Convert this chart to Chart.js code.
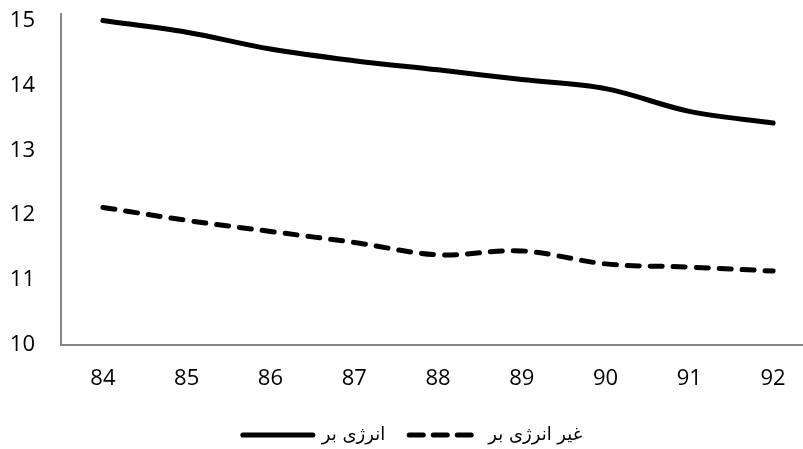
<!DOCTYPE html>
<html lang="fa">
<head>
    <meta charset="UTF-8">
    <title>انرژی بر / غیر انرژی بر</title>
    <style>
        html, body {
            margin: 0;
            padding: 0;
            background: #fff;
            overflow: hidden;
        }
        .container {
            width: 815px;
            height: 449px;
            position: relative;
        }
    </style>
    <script src="https://cdn.jsdelivr.net/npm/chart.js"></script>
</head>
<body>
    <div class="container">
        <canvas id="grafico"></canvas>
    </div>

    <script>
        // Datos
        const anios = ['84', '85', '86', '87', '88', '89', '90', '91', '92'];
        const energiaBar = [15.0, 14.82, 14.56, 14.38, 14.24, 14.09, 13.95, 13.60, 13.42];
        const noEnergiaBar = [12.12, 11.92, 11.75, 11.58, 11.39, 11.45, 11.25, 11.20, 11.14];
        const etiquetas = ['انرژی بر', 'غیر انرژی بر'];
        const marcasY = [10, 11, 12, 13, 14, 15];

        const colorEje = '#868686';
        const fuenteEjes = { family: 'Open Sans', size: 22, lineHeight: 1 };

        const ctx = document.getElementById('grafico').getContext('2d');

        new Chart(ctx, {
            type: 'line',
            data: {
                labels: anios,
                datasets: [{
                    label: etiquetas[0],
                    data: energiaBar,
                    borderColor: '#000',
                    backgroundColor: '#000',
                    borderWidth: 5,
                    borderCapStyle: 'round',
                    pointRadius: 0,
                    tension: 0.35
                }, {
                    label: etiquetas[1],
                    data: noEnergiaBar,
                    borderColor: '#000',
                    backgroundColor: '#000',
                    borderWidth: 5,
                    borderDash: [12, 11],
                    borderCapStyle: 'round',
                    pointRadius: 0,
                    tension: 0.35
                }]
            },
            options: {
                responsive: true,
                maintainAspectRatio: false,
                animation: false,
                layout: {
                    padding: { top: 14, left: 10, right: 0, bottom: -5 }
                },
                plugins: {
                    tooltip: { enabled: false },
                    legend: {
                        position: 'bottom',
                        labels: {
                            usePointStyle: true,
                            pointStyle: 'line',
                            pointStyleWidth: 70,
                            boxHeight: 5,
                            padding: 24,
                            color: '#000',
                            font: { family: 'DejaVu Sans', size: 18 },
                            // con usePointStyle se pierde el trazo discontinuo, se recupera del dataset
                            generateLabels: (chart) => {
                                const items = Chart.defaults.plugins.legend.labels.generateLabels(chart);
                                items.forEach(item => {
                                    const ds = chart.data.datasets[item.datasetIndex];
                                    item.lineDash = ds.borderDash ? [14, 10] : [];
                                    item.lineWidth = ds.borderWidth;
                                    item.lineCap = 'round';
                                });
                                return items;
                            }
                        }
                    }
                },
                scales: {
                    x: {
                        offset: true,
                        grid: { display: false, drawTicks: false },
                        border: { color: colorEje, width: 2 },
                        ticks: { color: '#000', font: fuenteEjes, padding: 23, maxRotation: 0 },
                        afterFit: (eje) => {
                            eje.height -= 11;
                        }
                    },
                    y: {
                        min: 10,
                        max: 15.1,
                        grid: { display: false, drawTicks: false },
                        border: { color: colorEje, width: 2 },
                        ticks: { color: '#000', font: fuenteEjes, padding: 26 },
                        afterBuildTicks: (eje) => {
                            eje.ticks = marcasY.map(v => ({ value: v }));
                        },
                        afterFit: (eje) => {
                            eje.width = 51;
                            eje.paddingTop = 0;
                            eje.paddingBottom = 0;
                        }
                    }
                }
            }
        });
    </script>
</body>
</html>
